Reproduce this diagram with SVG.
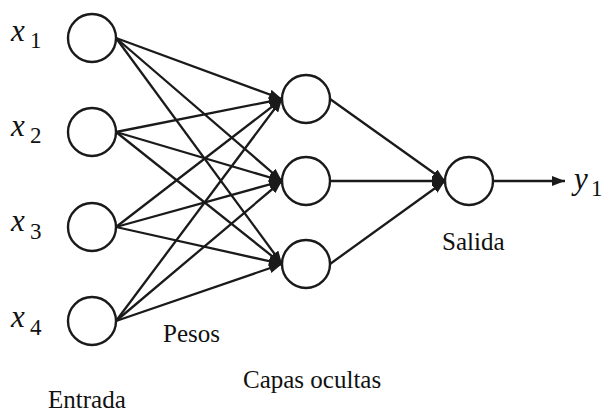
<svg xmlns="http://www.w3.org/2000/svg" width="611" height="414" viewBox="0 0 611 414">
<style>
.n{fill:#fff;stroke:#1a1a1a;stroke-width:2.4}
.e{stroke:#1a1a1a;stroke-width:2.3;fill:none;marker-end:url(#ah)}
</style>
<defs>
<marker id="ah" markerUnits="userSpaceOnUse" markerWidth="13" markerHeight="10" refX="13" refY="5" orient="auto">
<path d="M0,0 L13,5 L0,10 z" fill="#1a1a1a"/>
</marker>
</defs>
<rect width="611" height="414" fill="#fff"/>
<g id="connectors">
<line class="e" x1="116" y1="38" x2="282" y2="99"/>
<line class="e" x1="116" y1="38" x2="282" y2="181"/>
<line class="e" x1="116" y1="38" x2="282" y2="264"/>
<line class="e" x1="116" y1="132" x2="282" y2="99"/>
<line class="e" x1="116" y1="132" x2="282" y2="181"/>
<line class="e" x1="116" y1="132" x2="282" y2="264"/>
<line class="e" x1="116" y1="227" x2="282" y2="99"/>
<line class="e" x1="116" y1="227" x2="282" y2="181"/>
<line class="e" x1="116" y1="227" x2="282" y2="264"/>
<line class="e" x1="116" y1="321" x2="282" y2="99"/>
<line class="e" x1="116" y1="321" x2="282" y2="181"/>
<line class="e" x1="116" y1="321" x2="282" y2="264"/>
<line class="e" x1="330" y1="99" x2="445" y2="181"/>
<line class="e" x1="330" y1="181" x2="445" y2="181"/>
<line class="e" x1="330" y1="264" x2="445" y2="181"/>
<line class="e" x1="493" y1="181" x2="565" y2="181"/>
</g>
<g font-family="Liberation Serif, Times New Roman, serif" fill="#111">
<g id="x1"><circle class="n" cx="92" cy="38" r="24"/><text font-style="italic" font-size="31" x="11" y="41">x</text><text font-size="23" x="30" y="48">1</text></g>
<g id="x2"><circle class="n" cx="92" cy="132" r="24"/><text font-style="italic" font-size="31" x="11" y="136">x</text><text font-size="23" x="30" y="143">2</text></g>
<g id="x3"><circle class="n" cx="92" cy="227" r="24"/><text font-style="italic" font-size="31" x="11" y="231">x</text><text font-size="23" x="30" y="239">3</text></g>
<g id="x4"><circle class="n" cx="92" cy="321" r="24"/><text font-style="italic" font-size="31" x="11" y="327">x</text><text font-size="23" x="30" y="335">4</text></g>
<g id="h1"><circle class="n" cx="306" cy="99" r="24"/></g>
<g id="h2"><circle class="n" cx="306" cy="181" r="24"/></g>
<g id="h3"><circle class="n" cx="306" cy="264" r="24"/></g>
<g id="out"><circle class="n" cx="469" cy="181" r="24"/></g>
<g id="y1"><text font-style="italic" font-size="31" x="574" y="189">y</text><text font-size="23" x="591" y="196">1</text></g>
<g id="labels" font-size="25">
<text x="163" y="342">Pesos</text>
<text x="48" y="408">Entrada</text>
<text x="243" y="388">Capas ocultas</text>
<text x="442" y="250">Salida</text>
</g>
</g>
</svg>
